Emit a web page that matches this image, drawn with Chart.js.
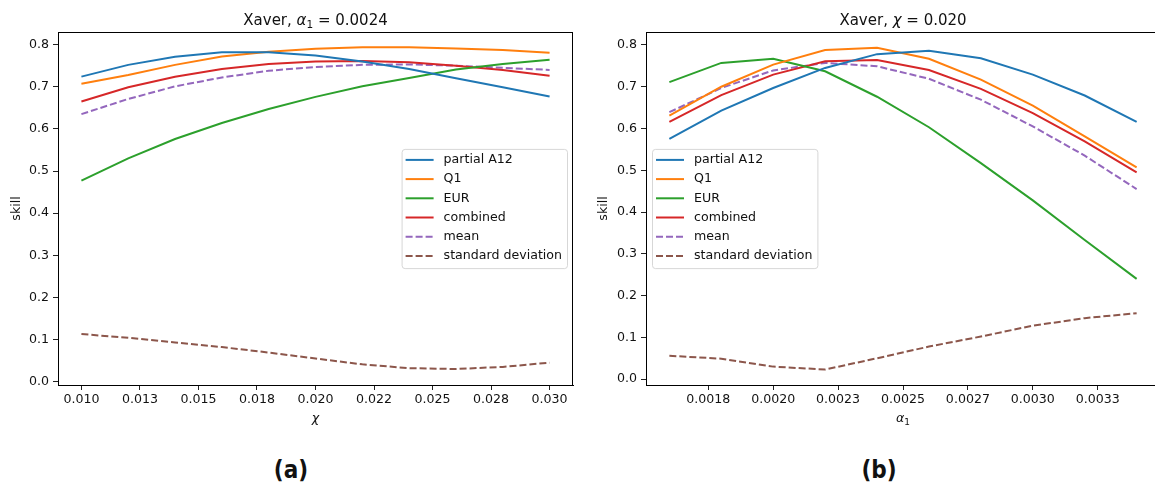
<!DOCTYPE html>
<html>
<head>
<meta charset="utf-8">
<script src="https://cdn.jsdelivr.net/npm/chart.js@4/dist/chart.umd.min.js"></script>
<style>
  html, body { margin: 0; padding: 0; background: #fff; overflow: hidden; }
  body { width: 1155px; height: 488px; position: relative; }
  canvas { position: absolute; top: 0; }
  #panelA { left: 0; }
  #panelB { left: 580px; }
  .tag {
    position: absolute; top: 456px; line-height: 24px;
    font: bold 24px 'DejaVu Sans Condensed', 'DejaVu Sans', sans-serif;
    color: #111; transform: translateX(-50%);
  }
</style>
</head>
<body>
<canvas id="panelA" width="580" height="430"></canvas>
<canvas id="panelB" width="590" height="430"></canvas>
<div class="tag" style="left:291px">(a)</div>
<div class="tag" style="left:879px">(b)</div>

<script>
// series shared by both panels
const seriesNames  = ['partial A12', 'Q1', 'EUR', 'combined', 'mean', 'standard deviation'];
const seriesColors = ['#1f77b4', '#ff7f0e', '#2ca02c', '#d62728', '#9467bd', '#8c564b'];
const seriesDashed = [false, false, false, false, true, true];

// panel (a): skill vs chi, alpha_1 = 0.0024
const chiGrid        = [0.010, 0.012, 0.014, 0.016, 0.018, 0.020, 0.022, 0.024, 0.026, 0.028, 0.030];
const chiPartialA12  = [0.724, 0.752, 0.771, 0.782, 0.782, 0.774, 0.760, 0.742, 0.720, 0.699, 0.677];
const chiQ1          = [0.707, 0.728, 0.752, 0.772, 0.783, 0.790, 0.794, 0.794, 0.791, 0.787, 0.781];
const chiEUR         = [0.477, 0.530, 0.576, 0.614, 0.647, 0.676, 0.701, 0.721, 0.741, 0.754, 0.764];
const chiCombined    = [0.665, 0.699, 0.724, 0.742, 0.754, 0.760, 0.761, 0.758, 0.750, 0.740, 0.726];
const chiMean        = [0.635, 0.671, 0.701, 0.722, 0.738, 0.747, 0.752, 0.753, 0.750, 0.745, 0.740];
const chiStd         = [0.113, 0.104, 0.093, 0.082, 0.069, 0.055, 0.041, 0.032, 0.030, 0.035, 0.045];
const chiTickValues  = [0.0100, 0.0125, 0.0150, 0.0175, 0.0200, 0.0225, 0.0250, 0.0275, 0.0300];
const chiTickLabels  = ['0.010', '0.013', '0.015', '0.018', '0.020', '0.022', '0.025', '0.028', '0.030'];

// panel (b): skill vs alpha_1, chi = 0.020
const alphaGrid       = [0.0016, 0.0018, 0.0020, 0.0022, 0.0024, 0.0026, 0.0028, 0.0030, 0.0032, 0.0034];
const alphaPartialA12 = [0.575, 0.643, 0.697, 0.745, 0.778, 0.786, 0.768, 0.729, 0.679, 0.616];
const alphaQ1         = [0.631, 0.700, 0.753, 0.788, 0.793, 0.767, 0.717, 0.655, 0.581, 0.507];
const alphaEUR        = [0.711, 0.757, 0.767, 0.737, 0.676, 0.603, 0.517, 0.428, 0.333, 0.240];
const alphaCombined   = [0.616, 0.680, 0.729, 0.761, 0.764, 0.740, 0.695, 0.637, 0.569, 0.495];
const alphaMean       = [0.639, 0.697, 0.739, 0.757, 0.749, 0.719, 0.669, 0.605, 0.535, 0.455];
const alphaStd        = [0.056, 0.049, 0.030, 0.023, 0.050, 0.078, 0.102, 0.128, 0.146, 0.158];
const alphaTickValues = [0.00175, 0.0020, 0.00225, 0.0025, 0.00275, 0.0030, 0.00325];
const alphaTickLabels = ['0.0018', '0.0020', '0.0023', '0.0025', '0.0027', '0.0030', '0.0033'];

const skillTickValues = [0.0, 0.1, 0.2, 0.3, 0.4, 0.5, 0.6, 0.7, 0.8];
const skillTickLabels = ['0.0', '0.1', '0.2', '0.3', '0.4', '0.5', '0.6', '0.7', '0.8'];

const FONT = "'DejaVu Sans', sans-serif";
const INK = '#111';
const SMALL = 12.6;

// text made of runs (for the little bits of math: italic greek, subscripts)
function drawRuns(ctx, runs, cx, baseline) {
  let total = 0;
  runs.forEach(r => { ctx.font = r.font; r.w = ctx.measureText(r.text).width; total += r.w; });
  let x = cx - total / 2;
  ctx.textAlign = 'left';
  ctx.textBaseline = 'alphabetic';
  ctx.fillStyle = INK;
  runs.forEach(r => {
    ctx.font = r.font;
    ctx.fillText(r.text, x, baseline + (r.dy || 0));
    x += r.w;
  });
}

const reg = s => ({ text: s, font: `15px ${FONT}` });
const ita = s => ({ text: s, font: `italic 15px ${FONT}` });
const sub = s => ({ text: s, font: `10.5px ${FONT}`, dy: 3 });
const xita = s => ({ text: s, font: `italic ${SMALL}px ${FONT}` });
const xsub = s => ({ text: s, font: `9px ${FONT}`, dy: 3 });

// frame, title, axis labels and an in-axes legend
const decorPlugin = {
  id: 'decor',
  afterDraw(chart, args, opts) {
    const { ctx, chartArea: a } = chart;
    ctx.save();
    ctx.strokeStyle = '#000';
    ctx.lineWidth = 1;
    ctx.strokeRect(a.left + 0.5, a.top + 0.5, a.right - a.left - 1, a.bottom - a.top);

    const cx = (a.left + a.right) / 2;
    drawRuns(ctx, opts.title, cx, 25);
    drawRuns(ctx, opts.xTitle, cx, 422);

    // y label
    ctx.save();
    ctx.translate(opts.yTitleX, (a.top + a.bottom) / 2);
    ctx.rotate(-Math.PI / 2);
    ctx.font = `${SMALL}px ${FONT}`;
    ctx.fillStyle = INK;
    ctx.textAlign = 'center';
    ctx.textBaseline = 'middle';
    ctx.fillText('skill', 0, 0);
    ctx.restore();

    // legend box
    ctx.font = `${SMALL}px ${FONT}`;
    const textW = Math.max(...chart.data.datasets.map(d => ctx.measureText(d.label).width));
    const rowH = 19.2;
    const w = 42 + textW + 5;
    const h = chart.data.datasets.length * rowH + 4;
    const bx = opts.legendSide === 'right' ? a.right - 6 - w : a.left + 6;
    const by = (a.top + a.bottom) / 2 - h / 2;
    ctx.globalAlpha = 0.85;
    ctx.fillStyle = '#fff';
    ctx.strokeStyle = '#d0d0d0';
    ctx.beginPath();
    ctx.roundRect(bx + 0.5, by + 0.5, w, h, 3);
    ctx.fill();
    ctx.stroke();
    ctx.globalAlpha = 1;
    chart.data.datasets.forEach((d, i) => {
      const y = by + 11 + i * rowH;
      ctx.strokeStyle = d.borderColor;
      ctx.lineWidth = 2;
      ctx.setLineDash(d.borderDash || []);
      ctx.beginPath();
      ctx.moveTo(bx + 4, y);
      ctx.lineTo(bx + 32, y);
      ctx.stroke();
      ctx.setLineDash([]);
      ctx.fillStyle = INK;
      ctx.textAlign = 'left';
      ctx.textBaseline = 'middle';
      ctx.fillText(d.label, bx + 42, y);
    });
    ctx.restore();
  }
};

function makePanel(id, xs, ys, xRange, xTickValues, xTickLabels, yRange, layout, decor) {
  const datasets = ys.map((vals, i) => ({
    label: seriesNames[i],
    data: vals.map((v, j) => ({ x: xs[j], y: v })),
    borderColor: seriesColors[i],
    borderWidth: 2,
    borderDash: seriesDashed[i] ? [7, 3] : [],
    pointRadius: 0,
    tension: 0,
    fill: false
  }));

  return new Chart(document.getElementById(id), {
    type: 'line',
    data: { datasets },
    plugins: [decorPlugin],
    options: {
      responsive: false,
      animation: false,
      devicePixelRatio: 1,
      layout: { padding: { top: 32, right: layout.right, left: 0, bottom: 0 } },
      plugins: {
        legend: { display: false },
        tooltip: { enabled: false },
        decor
      },
      scales: {
        x: {
          type: 'linear',
          min: xRange[0],
          max: xRange[1],
          afterBuildTicks: s => { s.ticks = xTickValues.map(v => ({ value: v })); },
          afterFit: s => { s.height = 45; },
          ticks: {
            callback: (v, i) => xTickLabels[i],
            font: { family: FONT, size: SMALL },
            color: INK,
            padding: 2,
            maxRotation: 0,
            autoSkip: false
          },
          grid: { drawOnChartArea: false, drawTicks: true, tickLength: 5, color: '#222' },
          border: { display: true, color: '#000' }
        },
        y: {
          type: 'linear',
          min: yRange[0],
          max: yRange[1],
          afterBuildTicks: s => { s.ticks = skillTickValues.map(v => ({ value: v })); },
          afterFit: s => { s.width = layout.yWidth; },
          ticks: {
            callback: (v, i) => skillTickLabels[i],
            font: { family: FONT, size: SMALL },
            color: INK,
            padding: 4,
            autoSkip: false
          },
          grid: { drawOnChartArea: false, drawTicks: true, tickLength: 5, color: '#222' },
          border: { display: true, color: '#000' }
        }
      }
    }
  });
}

makePanel('panelA', chiGrid,
  [chiPartialA12, chiQ1, chiEUR, chiCombined, chiMean, chiStd],
  [0.009, 0.031], chiTickValues, chiTickLabels,
  [-0.008, 0.830],
  { right: 7, yWidth: 58 },
  {
    title: [reg('Xaver, '), ita('α'), sub('1'), reg(' = 0.0024')],
    xTitle: [xita('χ')],
    yTitleX: 17,
    legendSide: 'right'
  });

makePanel('panelB', alphaGrid,
  [alphaPartialA12, alphaQ1, alphaEUR, alphaCombined, alphaMean, alphaStd],
  [0.00151, 0.00349], alphaTickValues, alphaTickLabels,
  [-0.014, 0.831],
  { right: 10, yWidth: 66 },
  {
    title: [reg('Xaver, '), ita('χ'), reg(' = 0.020')],
    xTitle: [xita('α'), xsub('1')],
    yTitleX: 24,
    legendSide: 'left'
  });
</script>
</body>
</html>
